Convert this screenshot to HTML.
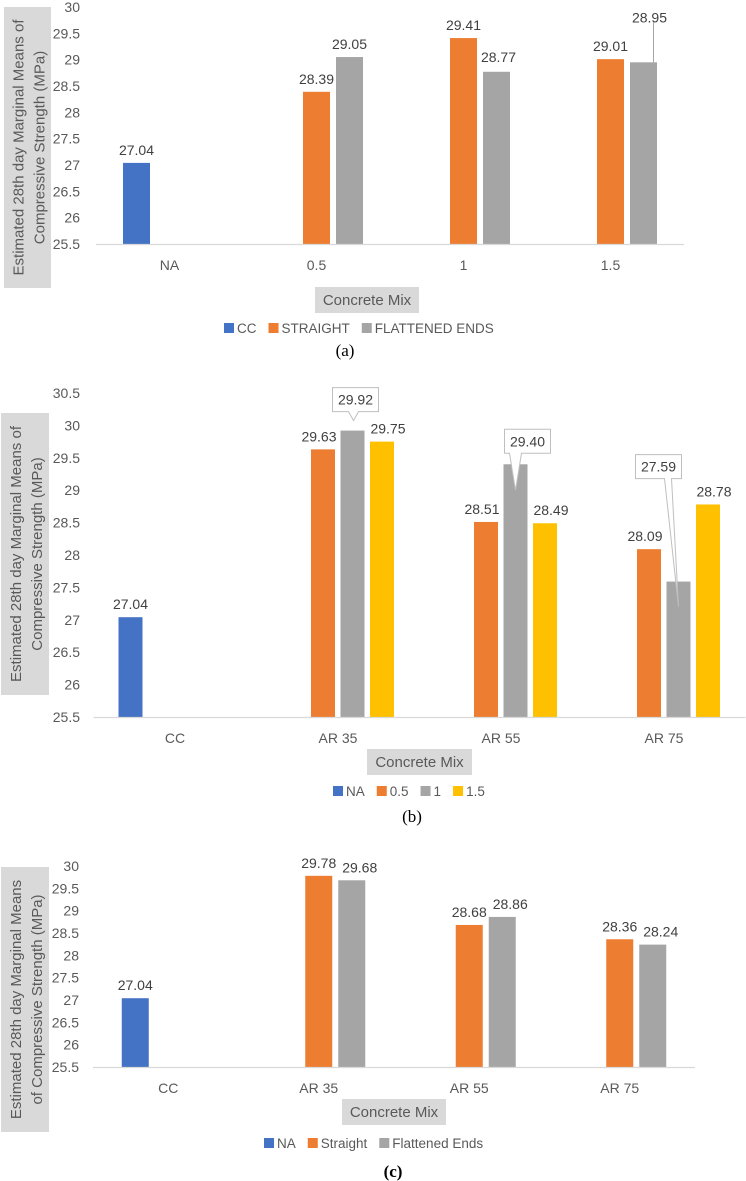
<!DOCTYPE html>
<html><head><meta charset="utf-8"><style>
html,body{margin:0;padding:0;background:#fff;}
svg{display:block;font-family:"Liberation Sans",sans-serif;}
</style></head><body>
<svg id="svg" width="746" height="1181" xmlns="http://www.w3.org/2000/svg"></svg>
<script>
// ---- Chart (a) data ----
const aCategories = ["NA","0.5","1","1.5"];
const aSeriesNames = ["CC","STRAIGHT","FLATTENED ENDS"];
const aCC = [27.04, null, null, null];
const aStraight = [null, 28.39, 29.41, 29.01];
const aFlattened = [null, 29.05, 28.77, 28.95];
const aTicks = ["25.5","26","26.5","27","27.5","28","28.5","29","29.5","30"];
// ---- Chart (b) data ----
const bCategories = ["CC","AR 35","AR 55","AR 75"];
const bSeriesNames = ["NA","0.5","1","1.5"];
const bNA = [27.04, null, null, null];
const b05 = [null, 29.63, 28.51, 28.09];
const b1 = [null, 29.92, 29.40, 27.59];
const b15 = [null, 29.75, 28.49, 28.78];
const bTicks = ["25.5","26","26.5","27","27.5","28","28.5","29","29.5","30","30.5"];
// ---- Chart (c) data ----
const cCategories = ["CC","AR 35","AR 55","AR 75"];
const cSeriesNames = ["NA","Straight","Flattened Ends"];
const cNA = [27.04, null, null, null];
const cStraight = [null, 29.78, 28.68, 28.36];
const cFlattened = [null, 29.68, 28.86, 28.24];
const cTicks = ["25.5","26","26.5","27","27.5","28","28.5","29","29.5","30"];

const svg = document.getElementById('svg');
const NS = "http://www.w3.org/2000/svg";
function mk(tag, attrs, parent){const e=document.createElementNS(NS,tag);for(const k in attrs)e.setAttribute(k,attrs[k]);(parent||svg).appendChild(e);return e;}
const COL = {blue:"#4472c4",orange:"#ed7d31",gray:"#a5a5a5",yellow:"#ffc000"};

function chart(cfg){
  const g = mk('g',{});
  
  
  const ymin=parseFloat(cfg.ticks[0]), ymax=parseFloat(cfg.ticks[cfg.ticks.length-1]);
  const y = v => cfg.y0 - (v-ymin)/(ymax-ymin)*(cfg.y0-cfg.y1);
  const x = i => cfg.x0 + (i+0.5)*cfg.step;
  const yb = mk('rect',{x:cfg.ylb[0],y:cfg.ylb[1],width:cfg.ylb[2],height:cfg.ylb[3],fill:"#d9d9d9"},g);
  
  
  const cx = cfg.ylb[0]+cfg.ylb[2]/2, cy = cfg.ylb[1]+cfg.ylb[3]/2;
  const yt = mk('text',{transform:`translate(${cx},${cy}) rotate(-90)`,"text-anchor":"middle","font-size":"15",fill:"#595959"},g);
  
  
  cfg.ylines.forEach((l,k)=>{const ts=mk('tspan',{x:0,y:(k===0?-4:17)},yt);ts.textContent=l;});
  cfg.ticks.forEach(t=>{
    const e = mk('text',{x:cfg.tickX,y:y(parseFloat(t))+5,"text-anchor":"end","font-size":"14",fill:"#595959"},g);
    
    
    e.textContent=t;
  });
  cfg.series.forEach((s,si)=>{
    s.vals.forEach((v,i)=>{
      if(v===null) return;
      const bx = x(i) + cfg.offsets[si] - cfg.bw/2;
      const r = mk('rect',{x:bx,y:y(v),width:cfg.bw,height:cfg.y0-y(v),fill:s.color},g);
      
      
      const lbl = v.toFixed(2);
      const bc = x(i)+cfg.offsets[si];
      let lx = bc, ly = y(v)-8;
      const cl = cfg.callout && cfg.callout(si,i);
      if(cl){
        const bxw=46,bxh=24, bxl=bc+cl.dx-bxw/2, bxt=y(v)+cl.dy, bb=bxt+bxh;
        const tipY = y(v)+cl.tip;
        const p = mk('path',{d:`M${bxl},${bxt} h${bxw} V${bb} H${bc+cl.tr} L${bc+cl.tx},${tipY} L${bc+cl.tl},${bb} H${bxl} Z`,fill:"#fff",stroke:"#bfbfbf","stroke-width":"1"},g);
        
        
        lx = bc+cl.dx; ly = bxt+17;
      } else if(cfg.nudge){ const nd=cfg.nudge(si,i); if(nd){lx+=nd[0]; ly+=nd[1];} }
      const t = mk('text',{x:lx,y:ly,"text-anchor":"middle","font-size":"14",fill:"#404040"},g);
      
      
      t.textContent = lbl;
    });
  });
  const ax = mk('line',{x1:cfg.x0,x2:cfg.x0+cfg.step*cfg.cats.length,y1:cfg.y0+0.5,y2:cfg.y0+0.5,stroke:"#d9d9d9","stroke-width":"1.2"},g);
  
  
  cfg.cats.forEach((c,i)=>{
    const t = mk('text',{x:x(i),y:cfg.y0+26,"text-anchor":"middle","font-size":"14",fill:"#595959"},g);
    
    
    t.textContent=c;
  });
  const xb = mk('rect',{x:cfg.xtb[0],y:cfg.xtb[1],width:cfg.xtb[2],height:26,fill:"#d9d9d9"},g);
  
  
  const xt = mk('text',{x:cfg.xtb[0]+cfg.xtb[2]/2,y:cfg.xtb[1]+18,"text-anchor":"middle","font-size":"15",fill:"#595959"},g);
  
  
  xt.textContent="Concrete Mix";
  let lxp = cfg.legX;
  cfg.series.forEach(s=>{
    const sq = mk('rect',{x:lxp,y:cfg.legY-10,width:10,height:10,fill:s.color},g);
    
    
    const t = mk('text',{x:lxp+13,y:cfg.legY,"font-size":"13.5",fill:"#595959"},g);
    
    
    t.textContent=s.name;
    lxp += 13 + t.getComputedTextLength() + 12;
  });
  const cap = mk('text',{x:cfg.cap[0],y:cfg.cap[1],"text-anchor":"middle","font-size":"17","font-family":"Liberation Serif, serif","font-weight":cfg.capBold?"bold":"normal",fill:"#000"},g);
  
  
  cap.textContent=cfg.capText;
  return {x,y};
}

const A = chart({name:'chart-a',cats:aCategories,ticks:aTicks,y0:244,y1:7,x0:96,step:147,bw:27,offsets:[-33,0,33],
  series:[{name:aSeriesNames[0],vals:aCC,color:COL.blue},{name:aSeriesNames[1],vals:aStraight,color:COL.orange},{name:aSeriesNames[2],vals:aFlattened,color:COL.gray}],
  ylb:[4,7,47,281],ylines:["Estimated 28th day Marginal Means of","Compressive Strength (MPa)"],tickX:80,
  xtb:[315,287,104],legX:224,legY:333,cap:[345,356],capText:"(a)",
  nudge:(si,i)=>{ if(si===2&&i===3) return [6,-32]; if(si===2&&i===2) return [2,-2]; return null; }});
(function(){const lx=A.x(3)+33+10; const l=mk('line',{x1:lx,x2:lx,y1:A.y(aFlattened[3]),y2:A.y(aFlattened[3])-40,stroke:"#a6a6a6","stroke-width":"1"});

})();

chart({name:'chart-b',cats:bCategories,ticks:bTicks,y0:717,y1:393,x0:93.5,step:163,bw:24,offsets:[-44.5,-15,14.5,44],
  series:[{name:bSeriesNames[0],vals:bNA,color:COL.blue},{name:bSeriesNames[1],vals:b05,color:COL.orange},{name:bSeriesNames[2],vals:b1,color:COL.gray},{name:bSeriesNames[3],vals:b15,color:COL.yellow}],
  ylb:[1,413,48,282],ylines:["Estimated 28th day Marginal Means of","Compressive Strength (MPa)"],tickX:80,
  xtb:[367,749,105],legX:333,legY:796,cap:[412,822],capText:"(b)",
  nudge:(si,i)=>{ if(si===1&&i>0) return [-4,0]; if(si===3&&i>0) return [6,0]; return null; },
  callout:(si,i)=>{ if(si!==2||i===0) return null;
    if(i===1) return {dx:3,dy:-43,tip:-10,tx:1,tl:-4,tr:6};
    if(i===2) return {dx:12,dy:-35,tip:26,tx:0,tl:-6,tr:6};
    return {dx:-20,dy:-127,tip:25,tx:0,tl:-14,tr:-7}; }});

chart({name:'chart-c',cats:cCategories,ticks:cTicks,y0:1067,y1:866,x0:93,step:150.5,bw:27,offsets:[-33,0,33],
  series:[{name:cSeriesNames[0],vals:cNA,color:COL.blue},{name:cSeriesNames[1],vals:cStraight,color:COL.orange},{name:cSeriesNames[2],vals:cFlattened,color:COL.gray}],
  ylb:[1,867,48,265],ylines:["Estimated 28th day Marginal Means","of Compressive Strength (MPa)"],tickX:79,
  xtb:[342,1099,104],legX:264,legY:1148,cap:[393,1177],capText:"(c)",capBold:true,
  nudge:(si,i)=>{ if(si===2&&i>0) return [8,0]; return null; }});
</script>
</body></html>
